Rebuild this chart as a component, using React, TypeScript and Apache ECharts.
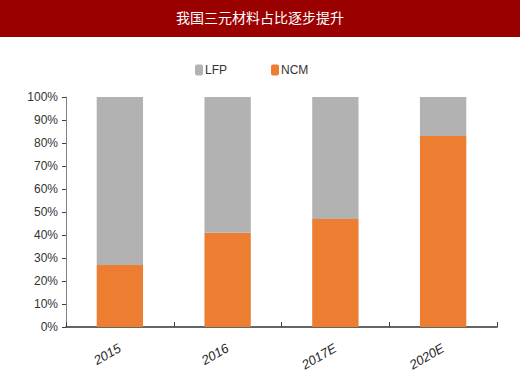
import React, { useEffect, useRef } from "react";
import * as echarts from "echarts";

const title = "我国三元材料占比逐步提升";
const categories = ["2015", "2016", "2017E", "2020E"];
const ncmValues = [27, 41, 47, 83];
const lfpValues = [73, 59, 53, 17];
const seriesNames = ["LFP", "NCM"];

export default function App() {
  const ref = useRef<HTMLDivElement>(null);
  useEffect(() => {
    document.body.style.margin = "0";
    const chart = echarts.init(ref.current!, null, { renderer: "svg" });
    chart.setOption({
      animation: false,
      backgroundColor: "#ffffff",
      graphic: [
        {
          type: "rect",
          left: 0,
          top: 0,
          shape: { width: 520, height: 37 },
          style: { fill: "#9a0000" },
          z: 0,
        },
        {
          type: "text",
          left: "center",
          top: 10,
          style: {
            text: title,
            fill: "#ffffff",
            font: "14px 'Noto Sans CJK SC'",
          },
          z: 1,
        },
      ],
      legend: {
        top: 59,
        left: 190,
        itemGap: 44,
        itemWidth: 8,
        itemHeight: 11,
        icon: "roundRect",
        data: seriesNames,
        textStyle: { color: "#333", fontSize: 12, fontFamily: "Liberation Sans", padding: [0, 0, 0, -3] },
      },
      grid: { left: 66, right: 23, top: 97, bottom: 52 },
      xAxis: {
        type: "category",
        data: categories,
        axisLine: { lineStyle: { color: "#333", width: 1.5 } },
        axisTick: { show: true, inside: true, length: 5, lineStyle: { color: "#404040" } },
        axisLabel: {
          rotate: 30,
          color: "#262626",
          fontSize: 13,
          fontStyle: "italic",
          fontFamily: "Liberation Sans",
          margin: 20,
        },
      },
      yAxis: {
        type: "value",
        min: 0,
        max: 100,
        interval: 10,
        splitLine: { show: false },
        axisLine: { show: true, lineStyle: { color: "#808080" } },
        axisTick: { show: true, length: 4, lineStyle: { color: "#404040" } },
        axisLabel: {
          formatter: "{value}%",
          color: "#333",
          fontSize: 12,
          fontFamily: "Liberation Sans",
          margin: 8,
        },
      },
      series: [
        {
          name: "NCM",
          type: "bar",
          stack: "total",
          data: ncmValues,
          barWidth: "43%",
          itemStyle: { color: "#ed7d31" },
        },
        {
          name: "LFP",
          type: "bar",
          stack: "total",
          data: lfpValues,
          barWidth: "43%",
          itemStyle: { color: "#b2b2b2" },
        },
      ],
    });
    return () => chart.dispose();
  }, []);
  return <div ref={ref} style={{ width: 520, height: 379 }} />;
}
